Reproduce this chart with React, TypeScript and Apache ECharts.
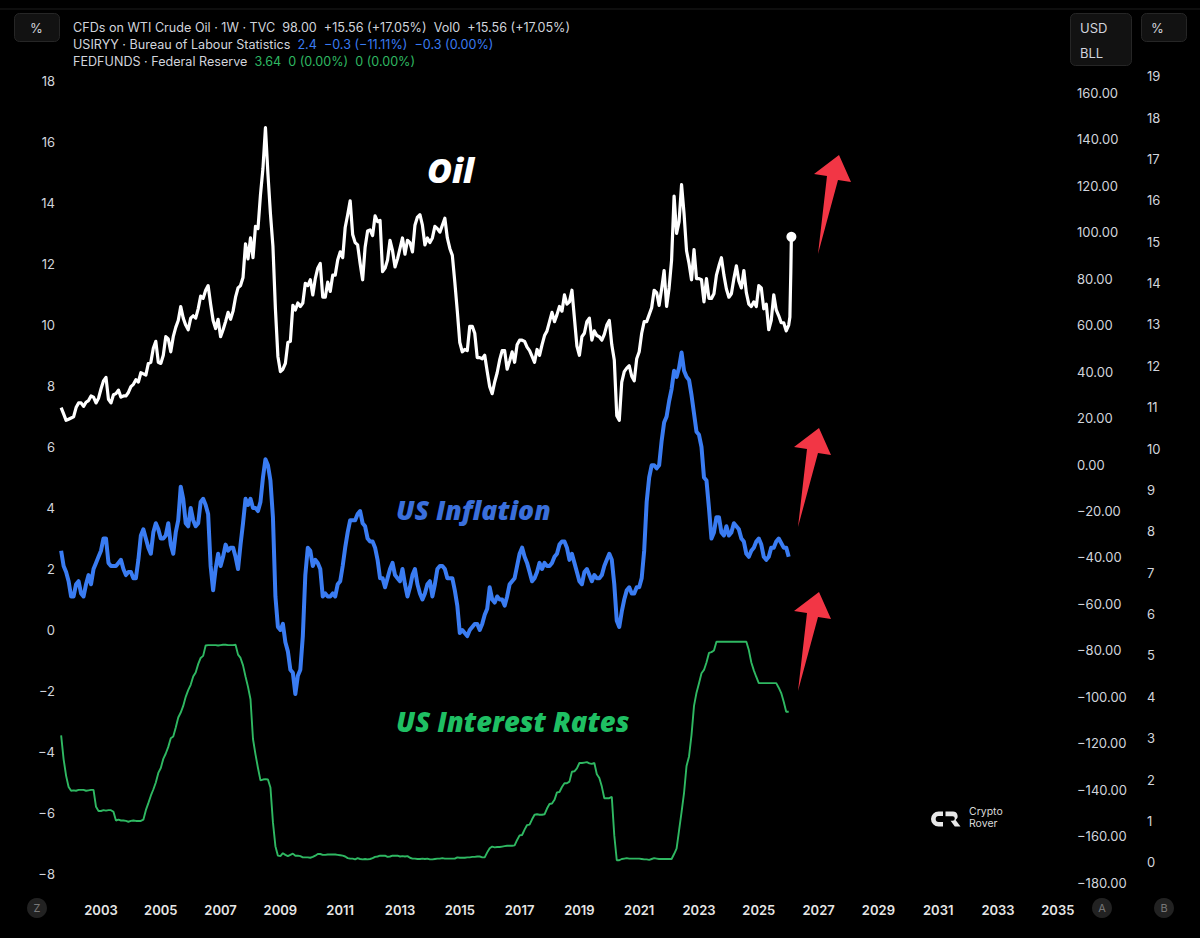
import React, { useEffect, useRef } from "react";
import * as echarts from "echarts";

// Monthly series start in September 2001
const START_YEAR = 2001;
const START_MONTH = 9;

// WTI crude, USD per barrel (first week of each month, Sep 2001 .. Jan 2026)
const OIL_MONTHLY = [
  24.5, 21.8, 19.0, 19.5,
  20.0, 20.5, 24.5, 26.5, 26.5, 25.0, 26.8, 27.5, 29.5, 29.0, 26.5, 28.5,
  32.5, 36.0, 37.5, 28.0, 26.5, 30.0, 30.5, 32.0, 29.0, 29.5, 29.5, 31.0,
  33.5, 34.5, 36.5, 35.5, 39.5, 39.0, 38.5, 43.5, 44.0, 50.0, 53.0, 44.0,
  43.5, 47.0, 55.0, 54.0, 48.5, 55.0, 59.0, 62.0, 68.0, 63.0, 60.0, 58.0,
  63.0, 64.0, 63.0, 67.0, 72.5, 71.5, 75.0, 77.0, 69.0, 62.0, 58.5, 62.5,
  55.0, 58.0, 61.5, 65.5, 62.5, 66.0, 72.0, 76.0, 77.0, 80.5, 95.0, 88.5,
  97.5, 89.0, 102.5, 101.5, 116.0, 127.5, 145.0, 125.0, 108.0, 94.0, 67.0, 46.5,
  40.0, 41.0, 43.5, 52.5, 53.0, 68.5, 66.5, 69.5, 68.0, 69.5, 78.0, 77.0,
  79.5, 73.0, 80.0, 84.5, 86.5, 72.0, 72.0, 78.5, 74.5, 81.5, 81.5, 88.0,
  91.5, 89.0, 102.0, 107.5, 113.5, 99.0, 95.5, 94.5, 86.5, 79.5, 93.5, 100.5,
  101.0, 98.5, 107.0, 104.5, 105.0, 83.0, 84.5, 88.0, 96.5, 92.0, 85.0, 88.5,
  93.0, 97.5, 90.5, 96.5, 95.5, 91.5, 103.0, 106.5, 107.5, 103.0, 94.5, 97.5,
  95.5, 97.5, 102.5, 101.5, 100.0, 103.0, 106.0, 97.5, 93.0, 90.0, 78.5, 66.0,
  52.5, 48.5, 49.5, 49.0, 59.5, 59.5, 56.5, 46.0, 46.0, 45.5, 47.0, 40.0,
  33.5, 30.5, 35.5, 39.5, 45.0, 49.0, 49.0, 41.0, 44.5, 48.5, 44.0, 51.5,
  53.5, 53.5, 53.0, 50.5, 49.0, 46.5, 44.0, 49.5, 47.0, 51.5, 55.5, 57.5,
  61.5, 65.5, 61.5, 64.5, 68.0, 66.0, 73.0, 69.0, 70.0, 75.0, 63.0, 51.0,
  47.0, 55.0, 56.5, 61.5, 63.0, 53.5, 57.5, 55.5, 55.0, 53.5, 56.0, 60.0,
  62.0, 51.5, 45.0, 21.0, 19.0, 35.5, 40.0, 41.5, 42.5, 38.0, 36.0, 45.5,
  48.5, 56.5, 61.5, 61.5, 64.5, 67.5, 75.0, 74.0, 68.5, 75.5, 83.5, 68.0,
  76.0, 88.0, 115.5, 99.5, 104.5, 120.5, 108.0, 92.0, 86.5, 79.5, 92.5, 80.0,
  80.0, 79.5, 70.0, 80.0, 71.5, 71.5, 73.5, 81.5, 85.5, 89.0, 81.5, 75.5,
  72.0, 73.5, 80.0, 85.5, 79.0, 76.0, 83.5, 74.0, 69.0, 68.0, 70.0, 68.0,
  77.0, 76.0, 67.0, 69.0, 58.0, 62.0, 73.0, 66.5, 64.0, 61.0, 61.0, 57.5,
  60.0,
];

// Latest weekly closes after January 2026
const OIL_TAIL_DATES = [2026.04, 2026.07, 2026.09];
const OIL_TAIL = [63.5, 82.44, 98.0];

// US CPI, year-over-year % (Sep 2001 .. Jan 2026); October 2025 was not published
const CPI_YOY: (number | null)[] = [
  2.6, 2.1, 1.9, 1.6,
  1.1, 1.1, 1.5, 1.6, 1.2, 1.1, 1.5, 1.8, 1.5, 2.0, 2.2, 2.4,
  2.6, 3.0, 3.0, 2.2, 2.1, 2.1, 2.1, 2.2, 2.3, 2.0, 1.8, 1.9,
  1.9, 1.7, 1.7, 2.3, 3.1, 3.3, 3.0, 2.7, 2.5, 3.2, 3.5, 3.3,
  3.0, 3.0, 3.1, 3.5, 2.8, 2.5, 3.2, 3.6, 4.7, 4.3, 3.5, 3.4,
  4.0, 3.6, 3.4, 3.5, 4.2, 4.3, 4.1, 3.8, 2.1, 1.3, 2.0, 2.5,
  2.1, 2.4, 2.8, 2.6, 2.7, 2.7, 2.4, 2.0, 2.8, 3.5, 4.3, 4.1,
  4.3, 4.0, 4.0, 3.9, 4.2, 5.0, 5.6, 5.4, 4.9, 3.7, 1.1, 0.1,
  0.0, 0.2, -0.4, -0.7, -1.3, -1.4, -2.1, -1.5, -1.3, -0.2, 1.8, 2.7,
  2.6, 2.1, 2.3, 2.2, 2.0, 1.1, 1.2, 1.1, 1.1, 1.2, 1.1, 1.5,
  1.6, 2.1, 2.7, 3.2, 3.6, 3.6, 3.6, 3.8, 3.9, 3.5, 3.4, 3.0,
  2.9, 2.9, 2.7, 2.3, 1.7, 1.7, 1.4, 1.7, 2.0, 2.2, 1.8, 1.7,
  1.6, 2.0, 1.5, 1.1, 1.4, 1.8, 2.0, 1.5, 1.2, 1.0, 1.2, 1.5,
  1.6, 1.1, 1.5, 2.0, 2.1, 2.1, 2.0, 1.7, 1.7, 1.7, 1.3, 0.8,
  -0.1, 0.0, -0.1, -0.2, 0.0, 0.1, 0.2, 0.2, 0.0, 0.2, 0.5, 0.7,
  1.4, 1.0, 0.9, 1.1, 1.0, 1.0, 0.8, 1.1, 1.5, 1.6, 1.7, 2.1,
  2.5, 2.7, 2.4, 2.2, 1.9, 1.6, 1.7, 1.9, 2.2, 2.0, 2.2, 2.1,
  2.1, 2.2, 2.4, 2.5, 2.8, 2.9, 2.9, 2.7, 2.3, 2.5, 2.2, 1.9,
  1.6, 1.5, 1.9, 2.0, 1.8, 1.6, 1.8, 1.7, 1.7, 1.8, 2.1, 2.3,
  2.5, 2.3, 1.5, 0.3, 0.1, 0.6, 1.0, 1.3, 1.4, 1.2, 1.2, 1.4,
  1.4, 1.7, 2.6, 4.2, 5.0, 5.4, 5.4, 5.3, 5.4, 6.2, 6.8, 7.0,
  7.5, 7.9, 8.5, 8.3, 8.6, 9.1, 8.5, 8.3, 8.2, 7.7, 7.1, 6.5,
  6.4, 6.0, 5.0, 4.9, 4.0, 3.0, 3.2, 3.7, 3.7, 3.2, 3.1, 3.4,
  3.1, 3.2, 3.5, 3.4, 3.3, 3.0, 2.9, 2.5, 2.4, 2.6, 2.7, 2.9,
  3.0, 2.8, 2.4, 2.3, 2.4, 2.7, 2.7, 2.9, 3.0, null, 2.7, 2.7,
  2.4,
];

// Effective federal funds rate, % (Sep 2001 .. Jan 2026)
const FED_FUNDS = [
  3.07, 2.49, 2.09, 1.82,
  1.73, 1.74, 1.73, 1.75, 1.75, 1.75, 1.73, 1.74, 1.75, 1.75, 1.34, 1.24,
  1.24, 1.26, 1.25, 1.26, 1.26, 1.22, 1.01, 1.03, 1.01, 1.01, 1.0, 0.98,
  1.0, 1.01, 1.0, 1.0, 1.0, 1.03, 1.26, 1.43, 1.61, 1.76, 1.93, 2.16,
  2.28, 2.5, 2.63, 2.79, 3.0, 3.04, 3.26, 3.5, 3.62, 3.78, 4.0, 4.16,
  4.29, 4.49, 4.59, 4.79, 4.94, 4.99, 5.24, 5.25, 5.25, 5.25, 5.25, 5.24,
  5.25, 5.26, 5.26, 5.25, 5.25, 5.25, 5.26, 5.02, 4.94, 4.76, 4.49, 4.24,
  3.94, 2.98, 2.61, 2.28, 1.98, 2.0, 2.01, 2.0, 1.81, 0.97, 0.39, 0.16,
  0.15, 0.22, 0.18, 0.15, 0.18, 0.21, 0.16, 0.16, 0.15, 0.12, 0.12, 0.12,
  0.11, 0.13, 0.16, 0.2, 0.2, 0.18, 0.18, 0.19, 0.19, 0.19, 0.19, 0.18,
  0.17, 0.16, 0.14, 0.1, 0.09, 0.09, 0.07, 0.1, 0.08, 0.07, 0.08, 0.07,
  0.08, 0.1, 0.13, 0.14, 0.16, 0.16, 0.16, 0.13, 0.14, 0.16, 0.16, 0.16,
  0.14, 0.15, 0.14, 0.15, 0.11, 0.09, 0.09, 0.08, 0.08, 0.09, 0.08, 0.09,
  0.07, 0.07, 0.08, 0.09, 0.09, 0.1, 0.09, 0.09, 0.09, 0.09, 0.09, 0.12,
  0.11, 0.11, 0.11, 0.12, 0.12, 0.13, 0.13, 0.14, 0.14, 0.12, 0.12, 0.24,
  0.34, 0.38, 0.36, 0.37, 0.37, 0.38, 0.39, 0.4, 0.4, 0.4, 0.41, 0.54,
  0.65, 0.66, 0.79, 0.9, 0.91, 1.04, 1.15, 1.16, 1.15, 1.15, 1.16, 1.3,
  1.41, 1.42, 1.51, 1.69, 1.7, 1.82, 1.91, 1.91, 1.95, 2.19, 2.2, 2.27,
  2.4, 2.4, 2.41, 2.42, 2.39, 2.38, 2.4, 2.13, 2.04, 1.83, 1.55, 1.55,
  1.55, 1.58, 0.65, 0.05, 0.05, 0.08, 0.09, 0.1, 0.09, 0.09, 0.09, 0.09,
  0.09, 0.08, 0.07, 0.07, 0.06, 0.08, 0.1, 0.09, 0.08, 0.08, 0.08, 0.08,
  0.08, 0.08, 0.2, 0.33, 0.77, 1.21, 1.68, 2.33, 2.56, 3.08, 3.78, 4.1,
  4.33, 4.57, 4.65, 4.83, 5.06, 5.08, 5.12, 5.33, 5.33, 5.33, 5.33, 5.33,
  5.33, 5.33, 5.33, 5.33, 5.33, 5.33, 5.33, 5.33, 5.13, 4.83, 4.64, 4.48,
  4.33, 4.33, 4.33, 4.33, 4.33, 4.33, 4.33, 4.33, 4.22, 4.09, 3.88, 3.64,
  3.64,
];

// Axis tick labels
const YEAR_TICKS = [2003, 2005, 2007, 2009, 2011, 2013, 2015, 2017, 2019, 2021, 2023, 2025, 2027, 2029, 2031, 2033, 2035];
const PCT_TICKS = [-8, -6, -4, -2, 0, 2, 4, 6, 8, 10, 12, 14, 16, 18];
const USD_TICKS = [-180, -160, -140, -120, -100, -80, -60, -40, -20, 0, 20, 40, 60, 80, 100, 120, 140, 160];
const FED_TICKS = [0, 1, 2, 3, 4, 5, 6, 7, 8, 9, 10, 11, 12, 13, 14, 15, 16, 17, 18, 19];

const LOGO_PATH =
  "M12 0 H7.5 A7.5 7.5 0 0 0 7.5 15 H12 V10.4 H7.6 A2.9 2.9 0 0 1 7.6 4.6 H12 Z " +
  "M14.5 0 H22 A4.6 4.6 0 0 1 24.6 8.4 L29.5 15 H23.8 L19.6 9.2 H21.6 A2.2 2.2 0 0 0 21.6 4.8 H14.5 Z";

echarts.graphic.registerShape("crLogo", echarts.graphic.extendPath(LOGO_PATH, {}) as any);

const monthTime = (i: number) => START_YEAR + (START_MONTH - 1 + i) / 12;
const MINUS = "\u2212";
const signed = (v: number, digits: number) => (v < 0 ? MINUS + Math.abs(v).toFixed(digits) : v.toFixed(digits));

const FONT = "Inter, 'Noto Sans', sans-serif";
const CAPTION_FONT = "'Open Sans', 'Noto Sans', sans-serif";
const TXT = "#d1d4dc";
const BLUE = "#3a7cf2";
const GREEN = "#2fb862";
const RED = "#f23645";

// red arrow outline, moved to each series
const ARROW = [
  [839, 155], [851, 182], [838, 180], [818, 254], [827, 176], [814, 174],
];
const arrowAt = (dx: number, dy: number) => ({
  type: "polygon",
  shape: { points: ARROW.map(([x, y]) => [x + dx, y + dy]) },
  style: { fill: RED },
  z: 100,
});

export default function App() {
  const ref = useRef<HTMLDivElement>(null);

  useEffect(() => {
    if (!ref.current) return;
    const chart = echarts.init(ref.current, undefined, { renderer: "svg" });

    const oilData: number[][] = OIL_MONTHLY.map((v, i) => [monthTime(i), v]).concat(
      OIL_TAIL.map((v, i) => [OIL_TAIL_DATES[i], v])
    );
    const cpiData = CPI_YOY.map((v, i) => [monthTime(i), v]).filter((d) => d[1] !== null);
    const fedData = FED_FUNDS.map((v, i) => [monthTime(i), v]);

    const oilLast = oilData[oilData.length - 1];
    const oilPrev = oilData[oilData.length - 2];
    const cpiLast = cpiData[cpiData.length - 1][1] as number;
    const cpiPrev = cpiData[cpiData.length - 2][1] as number;
    const fedLast = fedData[fedData.length - 1][1];
    const fedPrev = fedData[fedData.length - 2][1];

    const oilChg = oilLast[1] - oilPrev[1];
    const cpiChg = cpiLast - cpiPrev;
    const fedChg = fedLast - fedPrev;

    const line1 = `CFDs on WTI Crude Oil · 1W · TVC  ${oilLast[1].toFixed(2)}  +${oilChg.toFixed(2)} (+17.05%)  Vol0  +${oilChg.toFixed(2)} (+17.05%)`;
    const cpiVals = `${cpiLast.toFixed(1)}  ${signed(cpiChg, 1)} (${signed((cpiChg / cpiPrev) * 100, 2)}%)  ${signed(cpiChg, 1)} (0.00%)`;
    const fedVals = `${fedLast.toFixed(2)}  ${fedChg === 0 ? "0" : signed(fedChg, 2)} (0.00%)  0 (0.00%)`;

    const gridTop = 70;
    const gridBottomY = 893;
    const gridLeft = 61;
    const gridRightX = 1068;
    // scale: 2003 at x=101, 29.9 px per year
    const xMin = 2003 - (101 - gridLeft) / 29.9;
    const xMax = 2003 + (gridRightX - 101) / 29.9;

    const yLabel = { color: TXT, fontSize: 13, fontFamily: FONT };
    const mid = { verticalAlign: "middle", textVerticalAlign: "middle" };
    const HEAD = 12.6;

    const option: any = {
      animation: false,
      backgroundColor: "#000000",
      grid: { left: gridLeft, right: 1200 - gridRightX, top: gridTop, bottom: 938 - gridBottomY, containLabel: false },
      xAxis: {
        type: "value",
        min: xMin,
        max: xMax,
        axisLine: { show: false },
        axisTick: { show: false },
        splitLine: { show: false },
        axisLabel: {
          customValues: YEAR_TICKS,
          formatter: (v: number) => String(Math.round(v)),
          color: "#e6e6e6",
          fontSize: 13,
          fontWeight: 600,
          fontFamily: FONT,
          margin: 10,
        },
      },
      yAxis: [
        {
          type: "value",
          position: "left",
          min: (630 - gridBottomY) / 30.5,
          max: (630 - gridTop) / 30.5,
          axisLine: { show: false },
          axisTick: { show: false },
          splitLine: { show: false },
          axisLabel: { ...yLabel, customValues: PCT_TICKS, margin: 6, formatter: (v: number) => signed(v, 0) },
        },
        {
          type: "value",
          position: "right",
          min: (464.5 - gridBottomY) / 2.3235,
          max: (464.5 - gridTop) / 2.3235,
          axisLine: { show: false },
          axisTick: { show: false },
          splitLine: { show: false },
          axisLabel: { ...yLabel, customValues: USD_TICKS, margin: 9, formatter: (v: number) => signed(v, 2) },
        },
        {
          type: "value",
          position: "right",
          offset: 70,
          min: (862.3 - gridBottomY) / 41.37,
          max: (862.3 - gridTop) / 41.37,
          axisLine: { show: false },
          axisTick: { show: false },
          splitLine: { show: false },
          axisLabel: { ...yLabel, customValues: FED_TICKS, margin: 9, formatter: (v: number) => String(v) },
        },
      ],
      series: [
        {
          name: "FEDFUNDS",
          type: "line",
          yAxisIndex: 2,
          data: fedData,
          showSymbol: false,
          lineStyle: { color: GREEN, width: 1.9 },
          z: 2,
        },
        {
          name: "USIRYY",
          type: "line",
          yAxisIndex: 0,
          data: cpiData,
          showSymbol: false,
          lineStyle: { color: BLUE, width: 4, join: "round" },
          z: 3,
        },
        {
          name: "WTI",
          type: "line",
          yAxisIndex: 1,
          data: oilData,
          showSymbol: false,
          lineStyle: { color: "#ffffff", width: 3.2, join: "round" },
          z: 4,
        },
        {
          name: "WTI last",
          type: "scatter",
          yAxisIndex: 1,
          data: [oilLast],
          symbolSize: 10,
          itemStyle: { color: "#ffffff", opacity: 1 },
          z: 5,
        },
      ],
      graphic: [
        // top separator
        { type: "line", shape: { x1: 0, y1: 9, x2: 1200, y2: 9 }, style: { stroke: "#1c1c1c", lineWidth: 1 } },
        // scale buttons
        { type: "rect", shape: { x: 14.5, y: 13.5, width: 45, height: 28, r: 5 }, style: { fill: "#121212", stroke: "#262626" } },
        { type: "text", x: 30, y: 27.5, style: { text: "%", fill: TXT, fontSize: 13, fontFamily: FONT, ...mid } },
        { type: "rect", shape: { x: 1070.5, y: 13.5, width: 61, height: 52, r: 5 }, style: { fill: "#121212", stroke: "#262626" } },
        { type: "text", x: 1080, y: 27.5, style: { text: "USD", fill: TXT, fontSize: 13, fontFamily: FONT, ...mid } },
        { type: "text", x: 1080, y: 53, style: { text: "BLL", fill: TXT, fontSize: 13, fontFamily: FONT, ...mid } },
        { type: "rect", shape: { x: 1141.5, y: 13.5, width: 45, height: 28, r: 5 }, style: { fill: "#121212", stroke: "#262626" } },
        { type: "text", x: 1151, y: 27.5, style: { text: "%", fill: TXT, fontSize: 13, fontFamily: FONT, ...mid } },
        // legend header
        { type: "text", x: 73, y: 27.5, style: { text: line1, fill: TXT, fontSize: HEAD, fontFamily: FONT, ...mid } },
        {
          type: "text",
          x: 73,
          y: 44.5,
          style: {
            text: `{a|USIRYY · Bureau of Labour Statistics  }{b|${cpiVals}}`,
            fontSize: HEAD,
            fontFamily: FONT,
            ...mid,
            rich: {
              a: { fill: TXT, fontSize: HEAD, fontFamily: FONT },
              b: { fill: BLUE, fontSize: HEAD, fontFamily: FONT },
            },
          },
        },
        {
          type: "text",
          x: 73,
          y: 61.5,
          style: {
            text: `{a|FEDFUNDS · Federal Reserve  }{b|${fedVals}}`,
            fontSize: HEAD,
            fontFamily: FONT,
            ...mid,
            rich: {
              a: { fill: TXT, fontSize: HEAD, fontFamily: FONT },
              b: { fill: GREEN, fontSize: HEAD, fontFamily: FONT },
            },
          },
        },
        // series captions
        { type: "text", x: 427, y: 170, z: 50, style: { text: "Oil", fill: "#ffffff", fontSize: 34, fontWeight: 800, fontStyle: "italic", fontFamily: CAPTION_FONT, ...mid } },
        { type: "text", x: 396, y: 510, z: 50, style: { text: "US Inflation", fill: "#3a6fdb", fontSize: 26.5, fontWeight: 800, fontStyle: "italic", fontFamily: CAPTION_FONT, ...mid } },
        { type: "text", x: 396, y: 721, z: 50, style: { text: "US Interest Rates", fill: "#1fbf63", fontSize: 27.3, fontWeight: 800, fontStyle: "italic", fontFamily: CAPTION_FONT, ...mid } },
        // arrows
        arrowAt(0, 0),
        arrowAt(-20, 273),
        arrowAt(-20, 437),
        // watermark
        { type: "crLogo", x: 931, y: 811.5, style: { fill: "#e8e8e8" } },
        { type: "text", x: 969, y: 811, style: { text: "Crypto", fill: "#d8d8d8", fontSize: 10.5, fontFamily: FONT, ...mid } },
        { type: "text", x: 969, y: 823, style: { text: "Rover", fill: "#d8d8d8", fontSize: 10.5, fontFamily: FONT, ...mid } },
        // bottom buttons
        { type: "circle", shape: { cx: 37, cy: 908, r: 10 }, style: { fill: "#222222" } },
        { type: "text", x: 37, y: 908, style: { text: "Z", fill: "#777777", fontSize: 11, fontFamily: FONT, align: "center", textAlign: "center", ...mid } },
        { type: "circle", shape: { cx: 1102, cy: 908, r: 10 }, style: { fill: "#222222" } },
        { type: "text", x: 1102, y: 908, style: { text: "A", fill: "#777777", fontSize: 11, fontFamily: FONT, align: "center", textAlign: "center", ...mid } },
        { type: "circle", shape: { cx: 1164, cy: 908, r: 10 }, style: { fill: "#222222" } },
        { type: "text", x: 1164, y: 908, style: { text: "B", fill: "#777777", fontSize: 11, fontFamily: FONT, align: "center", textAlign: "center", ...mid } },
      ],
    };

    chart.setOption(option);
    return () => chart.dispose();
  }, []);

  return (
    <div
      ref={ref}
      style={{ position: "fixed", left: 0, top: 0, width: 1200, height: 938, background: "#000" }}
    />
  );
}
